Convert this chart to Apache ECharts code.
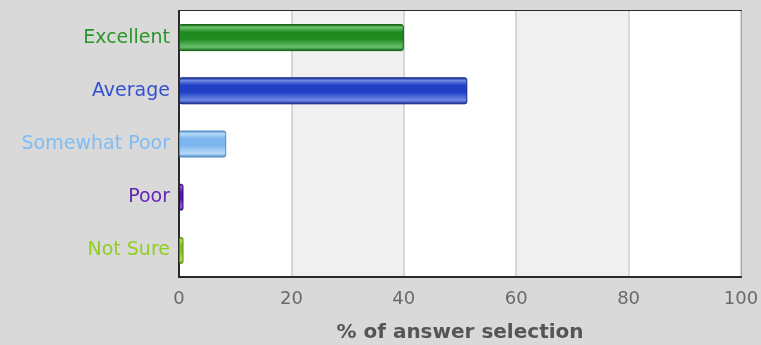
<!DOCTYPE html>
<html><head><meta charset="utf-8">
<script src="https://cdn.jsdelivr.net/npm/echarts@6/dist/echarts.min.js"></script>
<style>html,body{margin:0;padding:0;background:#d9d9d9;}#c{width:761px;height:345px;}</style>
</head><body><div id="c"></div>
<script>
const categories = ['Excellent', 'Average', 'Somewhat Poor', 'Poor', 'Not Sure'];
const values = [40, 51.3, 8.4, 0.8, 0.8];
const xTicks = [0, 20, 40, 60, 80, 100];
const baseColors = ['#1f8a1f', '#1f3fc4', '#7cb6ee', '#5418a8', '#86c41c'];
const edgeColors = ['#0c5e0c', '#10248a', '#4d88c8', '#34087a', '#5a8c08'];
const lightColors = ['#6cc06c', '#6f8ae6', '#b8daf8', '#8e60d4', '#b8e060'];
const labelColors = ['#2a962a', '#3350d0', '#7fbcf6', '#6424b4', '#8ecf20'];

function grad(i) {
  return new echarts.graphic.LinearGradient(0, 0, 0, 1, [
    {offset: 0, color: edgeColors[i]},
    {offset: 0.12, color: lightColors[i]},
    {offset: 0.3, color: baseColors[i]},
    {offset: 0.55, color: baseColors[i]},
    {offset: 0.85, color: lightColors[i]},
    {offset: 1, color: edgeColors[i]}
  ]);
}

const chart = echarts.init(document.getElementById('c'), null, {renderer: 'canvas'});
chart.setOption({
  backgroundColor: '#d9d9d9',
  animation: false,
  grid: {left: 179, right: 20, top: 11, bottom: 68, containLabel: false, outerBoundsMode: 'none',
    show: true, backgroundColor: '#ffffff', borderColor: '#2a2a2a', borderWidth: 2},
  xAxis: {
    type: 'value', min: xTicks[0], max: xTicks[xTicks.length - 1], interval: 20,
    axisLine: {show: true, lineStyle: {color: '#2a2a2a', width: 2}},
    axisTick: {show: false},
    splitLine: {show: true, lineStyle: {color: '#cccccc', width: 1.5}},
    splitArea: {show: true, areaStyle: {color: ['#ffffff', '#f0f0f0']}},
    axisLabel: {color: '#6a6a6a', fontSize: 18, fontFamily: 'DejaVu Sans', margin: 13},
    name: '% of answer selection', nameLocation: 'middle', nameGap: 46,
    nameTextStyle: {color: '#555', fontSize: 20, fontWeight: 'bold', fontFamily: 'DejaVu Sans'}
  },
  yAxis: {
    type: 'category', data: categories, inverse: true,
    axisLine: {show: true, lineStyle: {color: '#2a2a2a', width: 2}},
    axisTick: {show: false},
    axisLabel: {fontSize: 19, fontFamily: 'DejaVu Sans', margin: 9,
      color: function (v, i) { return labelColors[categories.indexOf(v)]; }}
  },
  series: [{
    type: 'bar', barWidth: 27,
    data: values.map((v, i) => ({value: v, itemStyle: {color: grad(i), borderColor: edgeColors[i], borderWidth: 1, borderRadius: 2}}))
  }]
});
</script></body></html>
